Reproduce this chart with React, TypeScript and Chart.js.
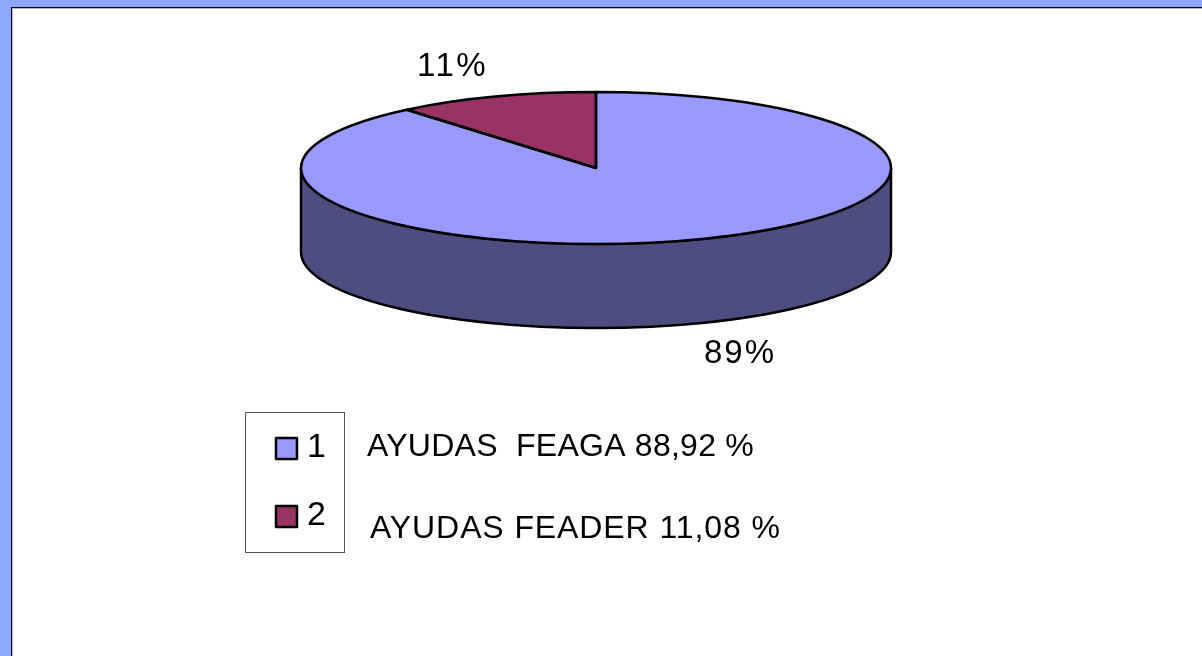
import React, { useEffect, useRef } from "react";
import { Chart, registerables } from "chart.js";

Chart.register(...registerables);

const categories = ["1", "2"];
const shares = [88.92, 11.08];
const percentLabels = ["89%", "11%"];
const fundNotes = ["AYUDAS  FEAGA 88,92 %", "AYUDAS FEADER 11,08 %"];
const topColors = ["#9999FF", "#993366"];
const sideColors = ["#4D4D80", "#4D1A33"];

const SQUASH = 76 / 295;
const DEPTH = 84;
const CENTER_Y = 168;
const FONT = '"Liberation Sans", Arial, sans-serif';

const pie3d = {
  id: "pie3d",
  beforeDatasetsDraw(chart: any) {
    const ctx = chart.ctx;
    const arcs = chart.getDatasetMeta(0).data;
    const cx = arcs[0].x;
    const rx = arcs[0].outerRadius;
    const ry = rx * SQUASH;
    ctx.save();
    arcs.forEach((arc: any, i: number) => {
      const from = Math.max(arc.startAngle, 0);
      const to = Math.min(arc.endAngle, Math.PI);
      if (to <= from) return;
      ctx.beginPath();
      ctx.ellipse(cx, CENTER_Y, rx, ry, 0, from, to);
      ctx.ellipse(cx, CENTER_Y + DEPTH, rx, ry, 0, to, from, true);
      ctx.closePath();
      ctx.fillStyle = sideColors[i];
      ctx.fill();
      ctx.lineWidth = 2.5;
      ctx.lineJoin = "round";
      ctx.strokeStyle = "#000";
      ctx.stroke();
    });
    ctx.restore();
    ctx.save();
    ctx.translate(0, CENTER_Y);
    ctx.scale(1, SQUASH);
    ctx.translate(0, -arcs[0].y);
  },
  afterDatasetsDraw(chart: any) {
    const ctx = chart.ctx;
    ctx.restore();
    const arcs = chart.getDatasetMeta(0).data;
    ctx.save();
    ctx.lineWidth = 2.5;
    ctx.lineJoin = "round";
    ctx.strokeStyle = "#000";
    arcs.forEach((arc: any) => {
      const rx = arc.outerRadius;
      ctx.beginPath();
      ctx.moveTo(arc.x, CENTER_Y);
      ctx.ellipse(arc.x, CENTER_Y, rx, rx * SQUASH, 0, arc.startAngle, arc.endAngle);
      ctx.closePath();
      ctx.stroke();
    });
    ctx.restore();
  },
  afterDraw(chart: any) {
    const ctx = chart.ctx;
    ctx.save();
    ctx.fillStyle = "#000";
    ctx.textBaseline = "alphabetic";
    ctx.textAlign = "left";

    ctx.font = `33px ${FONT}`;
    ctx.letterSpacing = "2.5px";
    ctx.fillText(percentLabels[1], 417, 76);
    ctx.letterSpacing = "2px";
    ctx.fillText(percentLabels[0], 704, 363);
    ctx.letterSpacing = "0px";

    ctx.lineWidth = 1;
    ctx.strokeStyle = "#555";
    ctx.strokeRect(245.5, 412.5, 99, 140);

    const swatchY = [438, 506];
    const digitY = [457, 525];
    categories.forEach((c, i) => {
      ctx.fillStyle = topColors[i];
      ctx.strokeStyle = "#000";
      ctx.lineWidth = 2.5;
      ctx.lineJoin = "round";
      ctx.fillRect(276, swatchY[i], 21, 21);
      ctx.strokeRect(276, swatchY[i], 21, 21);
      ctx.fillStyle = "#000";
      ctx.font = `34px ${FONT}`;
      ctx.fillText(c, 307, digitY[i]);
    });

    ctx.font = `32px ${FONT}`;
    ctx.letterSpacing = "0.25px";
    ctx.fillText(fundNotes[0], 367, 456);
    ctx.letterSpacing = "0.9px";
    ctx.fillText(fundNotes[1], 370, 538);
    ctx.restore();
  },
};

export default function App() {
  const ref = useRef<HTMLCanvasElement | null>(null);
  useEffect(() => {
    document.body.style.margin = "0";
    document.body.style.overflow = "hidden";
    const chart = new Chart(ref.current as HTMLCanvasElement, {
      type: "pie",
      data: {
        labels: categories,
        datasets: [{ data: shares, backgroundColor: topColors, borderWidth: 0 }],
      },
      options: {
        responsive: false,
        animation: false,
        layout: { padding: { left: 301, right: 311, top: 33, bottom: 33 } },
        plugins: { legend: { display: false }, tooltip: { enabled: false }, title: { display: false } },
      },
      plugins: [pie3d],
    } as any);
    return () => chart.destroy();
  }, []);
  return (
    <div style={{ position: "absolute", left: 0, top: 0, width: 1202, height: 656, background: "#8FA8FF", overflow: "hidden" }}>
      <div
        style={{
          position: "absolute",
          left: 11,
          top: 7,
          width: 1191,
          height: 649,
          background: "#fff",
          borderLeft: "1px solid #000033",
          borderTop: "1px solid #000033",
          boxSizing: "border-box",
          boxShadow: "inset 1px 1px 0 #b8b8b8",
        }}
      />
      <canvas ref={ref} width={1202} height={656} style={{ position: "absolute", left: 0, top: 0, display: "block" }} />
    </div>
  );
}
